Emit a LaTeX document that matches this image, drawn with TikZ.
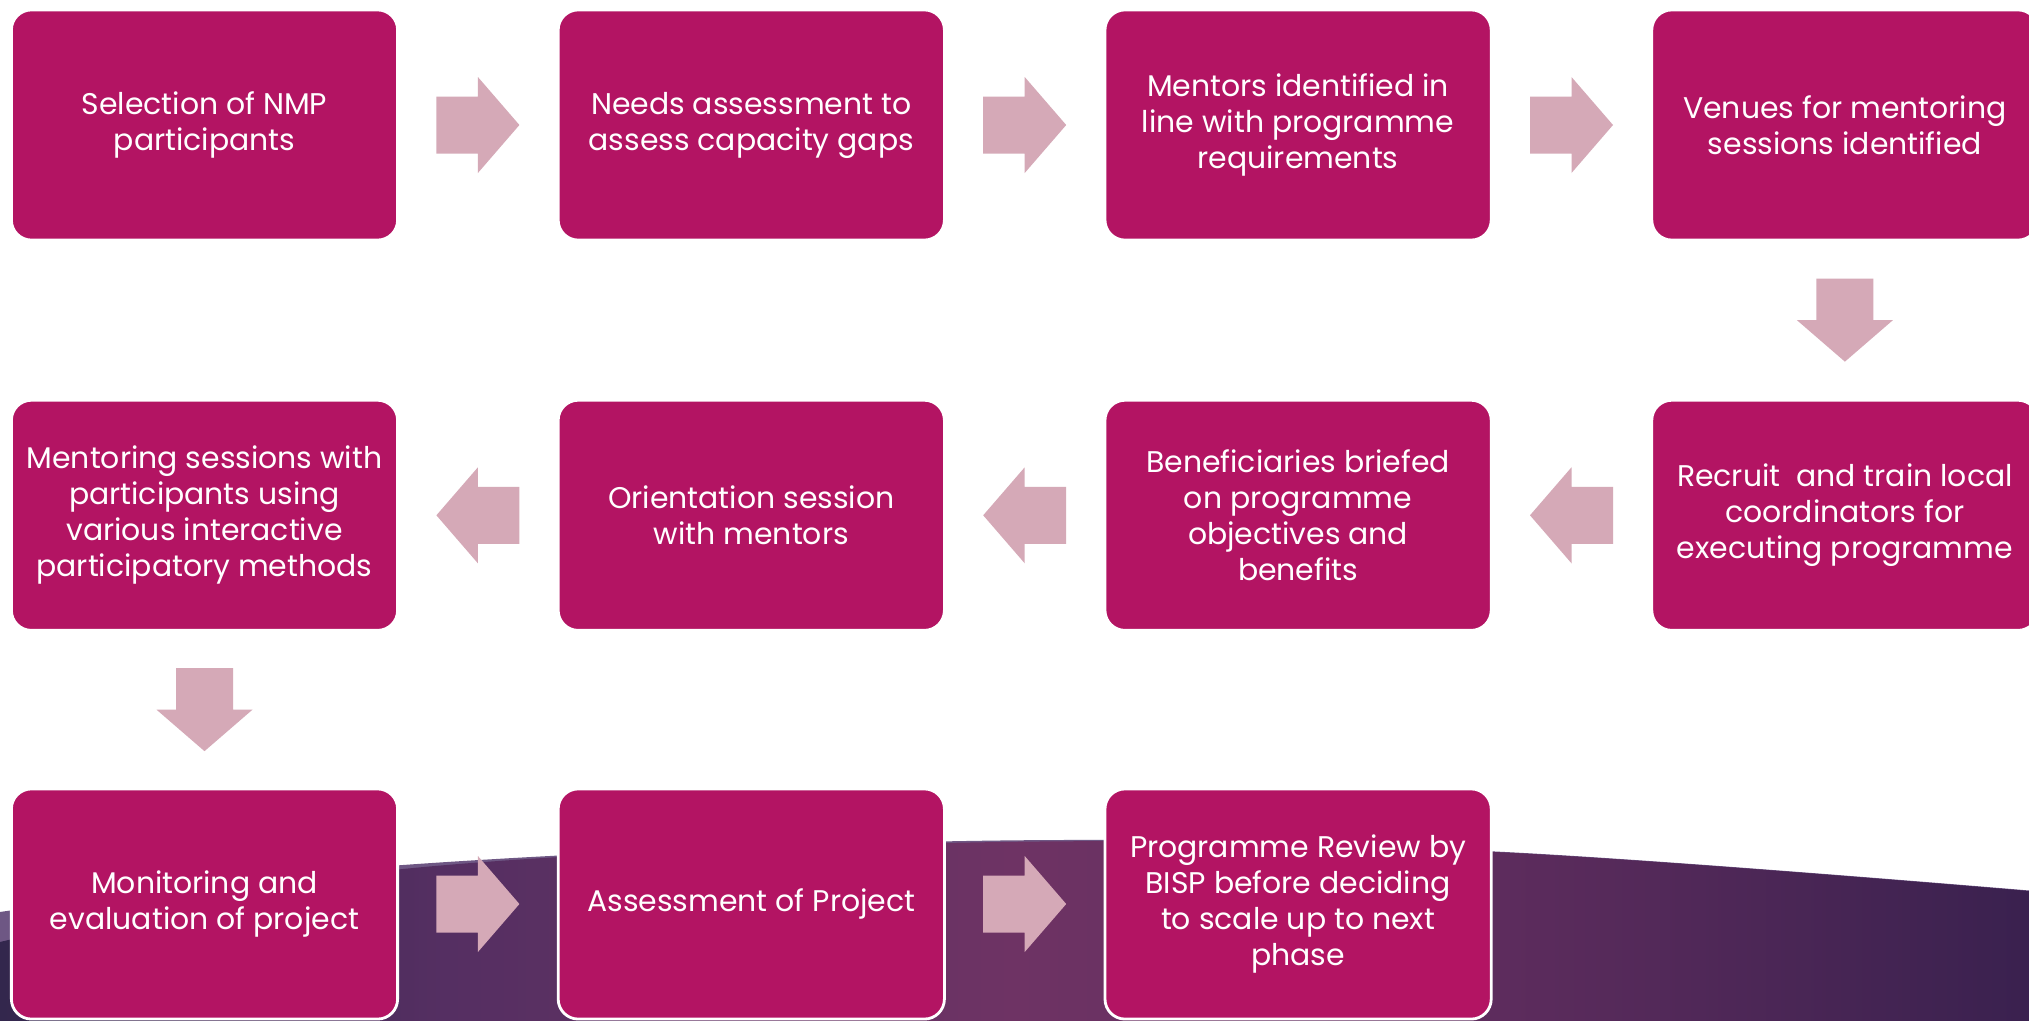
\documentclass[tikz,border=0pt]{standalone}
\usepackage{fontspec}
\setmainfont{Poppins}
\usetikzlibrary{calc}

\definecolor{boxmag}{HTML}{B31463}
\definecolor{arrpink}{HTML}{D5A9B7}
\definecolor{swlight}{HTML}{6E5784}
\definecolor{swA}{HTML}{33274D}
\definecolor{swB}{HTML}{552F62}
\definecolor{swC}{HTML}{6E3364}
\definecolor{swD}{HTML}{5D2C5D}
\definecolor{swE}{HTML}{3A214F}
\pgfdeclarehorizontalshading{swoosh}{100bp}{color(0bp)=(swA); color(25bp)=(swA); color(36bp)=(swB); color(50bp)=(swC); color(62bp)=(swD); color(75bp)=(swE); color(100bp)=(swE)}

% block arrow halfway between two boxes
\newcommand{\flowarrow}[3][]{%
  \fill[arrowfill, shift={($(#2)!0.5!(#3)$)}, #1] (-41.5,-28.5) -- (0,-28.5) -- (0,-48) -- (41.5,0) -- (0,48) -- (0,28.5) -- (-41.5,28.5) -- cycle;}

\begin{document}
\begin{tikzpicture}[x=0.01cm, y=-0.01cm,
    flowbox/.style={rounded corners=0.2cm, fill=boxmag, draw=white, line width=0.8pt,
      minimum width=3.86cm, minimum height=2.30cm, inner sep=0pt, text=white, align=center,
      font=\fontsize{8.5}{10.24}\selectfont},
    arrowfill/.style={fill=arrpink}]
    \useasboundingbox (0,0) rectangle (2029,1021);
    \fill[white] (0,0) rectangle (2029,1021);

    % Background swoosh
    \fill[swlight] plot[smooth, tension=0.6] coordinates {(0,912) (403,865) (1000,840.5) (1495,851.5) (2029,890.5)} -- (2029,1021) -- (0,1021) -- cycle;
    \shade[shading=swoosh] plot[smooth, tension=0.6] coordinates {(0,942) (403,869) (1000,842) (1495,852) (2029,891)} -- (2029,1021) -- (0,1021) -- cycle;

    % Row 1
    \node[flowbox] (sel) at (204.5,125) {Selection of NMP\\participants};
    \node[flowbox] (need) at (751.3,125) {Needs assessment to\\assess capacity gaps};
    \node[flowbox] (ment) at (1298.1,125) {Mentors identified in\\line with programme\\requirements};
    \node[flowbox] (venue) at (1844.9,125) {Venues for mentoring\\sessions identified};

    % Row 2
    \node[flowbox] (recr) at (1844.9,515.3) {Recruit~ and train local\\coordinators for\\executing programme};
    \node[flowbox] (benef) at (1298.1,515.3) {Beneficiaries briefed\\on programme\\objectives and\\benefits};
    \node[flowbox] (orient) at (751.3,515.3) {Orientation session\\with mentors};
    \node[flowbox] (sess) at (204.5,515.3) {Mentoring sessions with\\participants using\\various interactive\\participatory methods};

    % Row 3
    \node[flowbox] (monit) at (204.5,904) {Monitoring and\\evaluation of project};
    \node[flowbox] (assess) at (751.3,904) {Assessment of Project};
    \node[flowbox] (review) at (1298.1,904) {Programme Review by\\BISP before deciding\\to scale up to next\\phase};

    % Arrows
    \flowarrow{sel}{need}
    \flowarrow{need}{ment}
    \flowarrow{ment}{venue}
    \flowarrow[rotate=-90]{venue}{recr}
    \flowarrow[xscale=-1]{recr}{benef}
    \flowarrow[xscale=-1]{benef}{orient}
    \flowarrow[xscale=-1]{orient}{sess}
    \flowarrow[rotate=-90]{sess}{monit}
    \flowarrow{monit}{assess}
    \flowarrow{assess}{review}
\end{tikzpicture}
\end{document}
